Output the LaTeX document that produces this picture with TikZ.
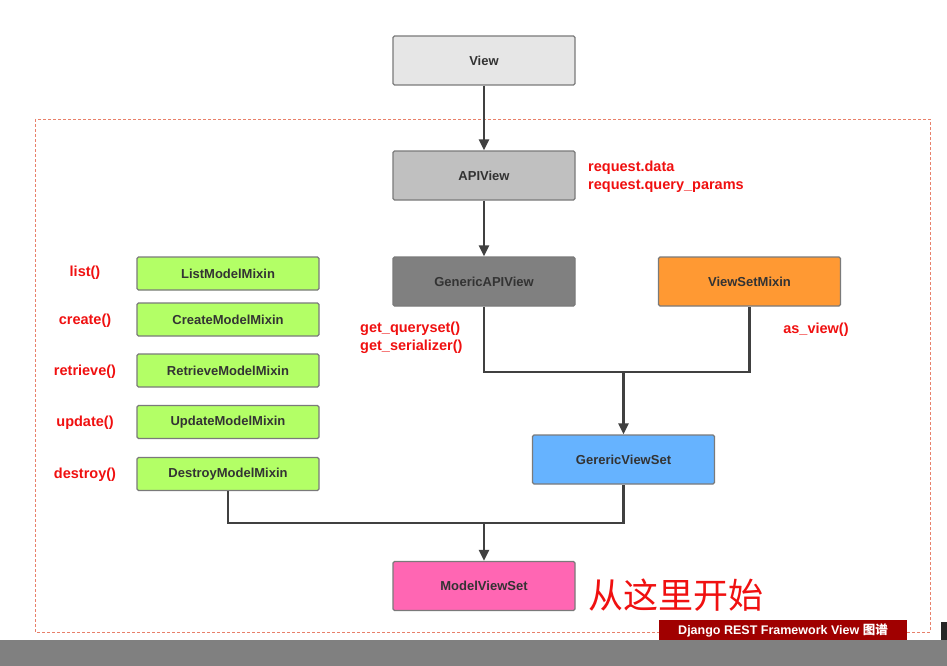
\documentclass[tikz,border=0pt]{standalone}
\usepackage{fontspec}
\setmainfont{Liberation Sans}
\newfontfamily\cjk{Noto Sans CJK SC}
\usetikzlibrary{arrows.meta}
\definecolor{edgegray}{HTML}{404040}
\definecolor{boxline}{HTML}{7A7A7A}
\definecolor{viewgray}{HTML}{E6E6E6}
\definecolor{apigray}{HTML}{C0C0C0}
\definecolor{genericgray}{HTML}{808080}
\definecolor{mixorange}{HTML}{FF9933}
\definecolor{setblue}{HTML}{66B3FF}
\definecolor{modelpink}{HTML}{FF66B3}
\definecolor{mixgreen}{HTML}{B3FF66}
\definecolor{notered}{HTML}{F01010}
\definecolor{frameorange}{HTML}{E8806A}
\definecolor{tagred}{HTML}{A00000}
\begin{document}
\begin{tikzpicture}[x=1pt, y=-1pt,
        cls/.style={draw=boxline, line width=1.3pt, rounded corners=1.5pt, minimum width=182pt, minimum height=49pt, font=\fontsize{13}{15}\selectfont\bfseries, text=black!80},
        mixin/.style={cls, fill=mixgreen, minimum height=33pt},
        note/.style={text=notered, font=\fontsize{14.5}{18}\selectfont\bfseries, align=left, inner sep=0pt},
        link/.style={draw=edgegray, line width=2.4pt},
        flow/.style={link, -{Triangle[length=11pt, width=10pt]}}
      ]
      \useasboundingbox (0,0) rectangle (947,666);
      \fill[white] (0,0) rectangle (947,666);
      \draw[frameorange, dash pattern=on 3pt off 2pt, line width=0.9pt] (35,119) rectangle (930,632);

      \node[cls, fill=viewgray] (view) at (484,60.5) {View};
      \node[cls, fill=apigray] (api) at (484,175.5) {APIView};
      \node[cls, fill=genericgray] (gapi) at (484,281.5) {GenericAPIView};
      \node[cls, fill=mixorange] (vsm) at (749.5,281.5) {ViewSetMixin};
      \node[cls, fill=setblue] (gvs) at (623.5,459.5) {GerericViewSet};
      \node[cls, fill=modelpink] (mvs) at (484,586) {ModelViewSet};

      \node[mixin] (list) at (228,273.5) {ListModelMixin};
      \node[mixin] (create) at (228,319.5) {CreateModelMixin};
      \node[mixin] (retrieve) at (228,370.5) {RetrieveModelMixin};
      \node[mixin] (update) at (228,422) {UpdateModelMixin};
      \node[mixin] (destroy) at (228,474) {DestroyModelMixin};

      \node[note] (nlist) at (85,273) {list()};
      \node[note] (ncreate) at (85,321) {create()};
      \node[note] (nretrieve) at (85,372) {retrieve()};
      \node[note] (nupdate) at (85,423) {update()};
      \node[note] (ndestroy) at (85,475) {destroy()};
      \node[note, anchor=west] (nrequest) at (588,177) {request.data\\request.query\_params};
      \node[note, anchor=west] (ngeneric) at (360,338) {get\_queryset()\\get\_serializer()};
      \node[note] (nview) at (816,330) {as\_view()};
      \node[text=notered, font=\cjk\fontsize{35}{37}\selectfont, inner sep=0pt] (start) at (676,595) {从这里开始};

      \coordinate (j1) at (623.5,372);
      \coordinate (j2) at (484,523);
      \draw[flow] (view) -- (api);
      \draw[flow] (api) -- (gapi);
      \draw[link] (gapi.south) |- (j1) -| (vsm.south);
      \draw[flow] (j1) -- (gvs);
      \draw[link] (destroy.south) |- (j2) -| (gvs.south);
      \draw[flow] (j2) -- (mvs);

      % bottom strip of the screenshot
      \fill[black!85] (941,622) rectangle (947,640);
      \node[fill=tagred, text=white, font=\fontsize{12.5}{14}\selectfont\bfseries, minimum width=248pt, minimum height=21pt, inner sep=0pt] (tag) at (783,630) {Django REST Framework View {\cjk 图谱}};
      \fill[genericgray] (0,640) rectangle (947,666);
    \end{tikzpicture}
\end{document}
